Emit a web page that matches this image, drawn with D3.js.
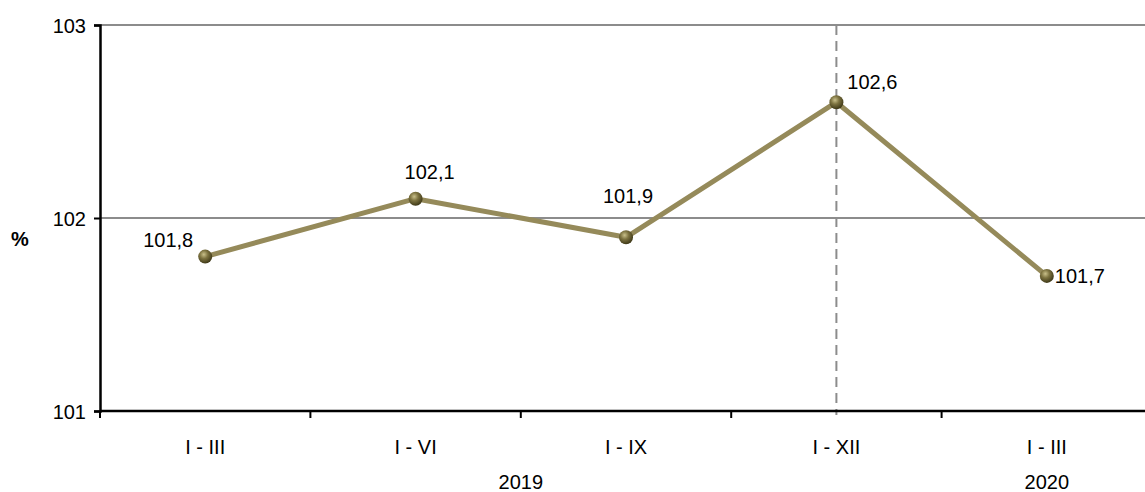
<!DOCTYPE html>
<html><head><meta charset="utf-8">
<script src="https://cdn.jsdelivr.net/npm/d3@7"></script>
<style>body{margin:0;background:#fff}svg{display:block}text{font-family:Arial,"Liberation Sans",sans-serif;fill:#000}</style>
</head><body><svg id="c" width="1145" height="492"></svg>
<script>
const categories = ["I - III","I - VI","I - IX","I - XII","I - III "];
const values = [101.8, 102.1, 101.9, 102.6, 101.7];
const valueLabels = ["101,8","102,1","101,9","102,6","101,7"];
const yTicks = [101, 102, 103];
const years = [{label:"2019", from:0, to:3}, {label:"2020", from:4, to:4}];
const unitLabel = "%";

const svg = d3.select("#c");
const L = 100, R = 1152, T = 25, B = 411;
const FS = "20px";
const x = d3.scaleBand().domain(categories).range([L, R]).padding(0);
const y = d3.scaleLinear().domain([101, 103]).range([B, T]);
const cx = d => x(d) + x.bandwidth()/2;

const defs = svg.append("defs");
const g = defs.append("radialGradient").attr("id","ball").attr("cx","40%").attr("cy","35%").attr("r","65%");
g.append("stop").attr("offset","0%").attr("stop-color","#c9c08a");
g.append("stop").attr("offset","45%").attr("stop-color","#7d7340");
g.append("stop").attr("offset","100%").attr("stop-color","#3f3918");

svg.append("g").selectAll("line").data(yTicks.filter(t => t > 101)).join("line")
  .attr("x1", L).attr("x2", 1145).attr("y1", d => y(d)).attr("y2", d => y(d))
  .attr("stroke", "#8c8c8c").attr("stroke-width", 2);

svg.append("line").attr("x1", cx(categories[3])).attr("x2", cx(categories[3]))
  .attr("y1", T).attr("y2", B + 4).attr("stroke", "#8c8c8c").attr("stroke-width", 2)
  .attr("stroke-dasharray", "10,6");

const yAxis = d3.axisLeft(y).tickValues(yTicks).tickSize(6).tickPadding(8).tickFormat(d3.format("d"));
const ya = svg.append("g").attr("transform", `translate(${L},0)`).call(yAxis);
ya.select(".domain").attr("stroke","#000").attr("stroke-width",2.5);
ya.selectAll(".tick line").attr("stroke","#000").attr("stroke-width",2);
ya.selectAll(".tick text").style("font-size",FS).attr("dy","0.35em");

const xa = svg.append("g").attr("transform", `translate(0,${B})`);
xa.append("line").attr("x1", L).attr("x2", 1145).attr("y1", 0).attr("y2", 0).attr("stroke","#000").attr("stroke-width",2.5);
xa.selectAll("line.tk").data(categories).join("line").attr("class","tk")
  .attr("x1", d => x(d)).attr("x2", d => x(d)).attr("y1", 0).attr("y2", 7)
  .attr("stroke","#000").attr("stroke-width",2);
xa.selectAll("text.cat").data(categories).join("text").attr("class","cat")
  .attr("x", d => cx(d)).attr("y", 43).attr("text-anchor","middle")
  .style("font-size",FS).text(d => d.trim());
xa.selectAll("text.yr").data(years).join("text").attr("class","yr")
  .attr("x", d => (cx(categories[d.from]) + cx(categories[d.to]))/2).attr("y", 78)
  .attr("text-anchor","middle").style("font-size",FS).text(d => d.label);

svg.append("text").attr("x", 20).attr("y", 246).attr("text-anchor","middle")
  .style("font-size",FS).style("font-weight","bold").text(unitLabel);

const pts = categories.map((c, i) => ({c, v: values[i], lab: valueLabels[i]}));
svg.append("path").datum(pts)
  .attr("d", d3.line().x(d => cx(d.c)).y(d => y(d.v)))
  .attr("fill","none").attr("stroke","#958a5a").attr("stroke-width",5).attr("stroke-linejoin","round");

svg.selectAll("circle.m").data(pts).join("circle").attr("class","m")
  .attr("cx", d => cx(d.c)).attr("cy", d => y(d.v)).attr("r", 7).attr("fill","url(#ball)");

const offs = [[-37,-17],[14,-27],[2,-41],[36,-20],[33,0]];
svg.selectAll("text.v").data(pts).join("text").attr("class","v")
  .attr("x", (d,i) => cx(d.c) + offs[i][0]).attr("y", (d,i) => y(d.v) + offs[i][1])
  .attr("dy","0.35em").attr("text-anchor","middle").style("font-size",FS).text(d => d.lab);
</script></body></html>
